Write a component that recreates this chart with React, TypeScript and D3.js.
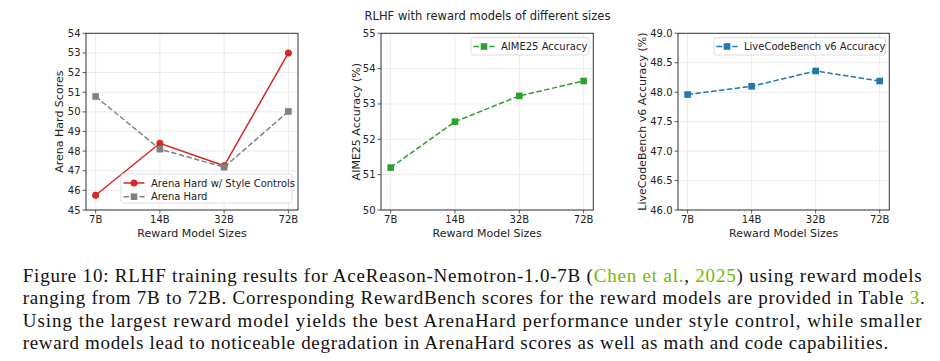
import React from 'react';
import * as d3 from 'd3';

// chart data
const sizes = ['7B', '14B', '32B', '72B'];
const arenaStyleScores = [45.75, 48.4, 47.25, 53.0];
const arenaHardScores = [50.78, 48.1, 47.18, 50.02];
const aimeAccuracy = [51.2, 52.5, 53.23, 53.65];
const lcbAccuracy = [47.96, 48.1, 48.36, 48.19];

const arenaTicks = [45, 46, 47, 48, 49, 50, 51, 52, 53, 54];
const aimeTicks = [50, 51, 52, 53, 54, 55];
const lcbTicks = [46.0, 46.5, 47.0, 47.5, 48.0, 48.5, 49.0];

const FONT = 'DejaVu Sans, sans-serif';
const TOP = 33.3;
const BOTTOM = 210;

const Marker = ({ shape, x, y, color }) =>
  shape === 'circle' ? (
    <circle cx={x} cy={y} r={3.5} fill={color} />
  ) : (
    <rect x={x - 3.3} y={y - 3.3} width={6.6} height={6.6} fill={color} />
  );

const Panel = ({ left, right, ticks, fmt, ylabel, labelX, series, legend }) => {
  const x = d3.scalePoint().domain(sizes).range([left, right]).padding(0.15);
  const y = d3
    .scaleLinear()
    .domain([ticks[0], ticks[ticks.length - 1]])
    .range([BOTTOM, TOP]);
  const line = d3
    .line()
    .x((d, i) => x(sizes[i]))
    .y((d) => y(d));

  return (
    <g fontFamily={FONT}>
      {/* grid */}
      {ticks.map((t) => (
        <line key={'gy' + t} x1={left} x2={right} y1={y(t)} y2={y(t)} stroke="#e6e6e6" strokeWidth={0.8} />
      ))}
      {sizes.map((s) => (
        <line key={'gx' + s} x1={x(s)} x2={x(s)} y1={TOP} y2={BOTTOM} stroke="#e6e6e6" strokeWidth={0.8} />
      ))}

      {series.map((s) => (
        <g key={s.name}>
          <path
            d={line(s.values)}
            fill="none"
            stroke={s.color}
            strokeWidth={1.5}
            strokeDasharray={s.dashed ? '5.5,2.4' : null}
          />
          {s.values.map((v, i) => (
            <Marker key={i} shape={s.shape} x={x(sizes[i])} y={y(v)} color={s.color} />
          ))}
        </g>
      ))}

      {/* spines */}
      <rect x={left} y={TOP} width={right - left} height={BOTTOM - TOP} fill="none" stroke="#333" strokeWidth={1} />

      {/* y ticks */}
      {ticks.map((t) => (
        <g key={'ty' + t}>
          <line x1={left - 3.5} x2={left} y1={y(t)} y2={y(t)} stroke="#333" strokeWidth={0.8} />
          <text x={left - 5.5} y={y(t)} dy="0.35em" textAnchor="end" fontSize={10} fill="#222">
            {fmt(t)}
          </text>
        </g>
      ))}
      {/* x ticks */}
      {sizes.map((s) => (
        <g key={'tx' + s}>
          <line x1={x(s)} x2={x(s)} y1={BOTTOM} y2={BOTTOM + 3.5} stroke="#333" strokeWidth={0.8} />
          <text x={x(s)} y={BOTTOM + 13} textAnchor="middle" fontSize={10} fill="#222">
            {s}
          </text>
        </g>
      ))}
      <text x={(left + right) / 2} y={BOTTOM + 26.5} textAnchor="middle" fontSize={11} fill="#222">
        Reward Model Sizes
      </text>
      <text
        transform={`translate(${labelX},${(TOP + BOTTOM) / 2}) rotate(-90)`}
        textAnchor="middle"
        dy="0.35em"
        fontSize={11}
        fill="#222"
      >
        {ylabel}
      </text>

      {/* legend */}
      <rect
        x={legend.x}
        y={legend.y}
        width={legend.w}
        height={legend.h}
        rx={2}
        fill="white"
        fillOpacity={0.85}
        stroke="#d6d6d6"
        strokeWidth={0.8}
      />
      {series.map((s, i) => {
        const ly = legend.y + 9 + i * 13.7;
        const hx = legend.x + 2.5;
        return (
          <g key={'lg' + s.name}>
            <line
              x1={hx}
              x2={hx + 21}
              y1={ly}
              y2={ly}
              stroke={s.color}
              strokeWidth={1.5}
              strokeDasharray={s.dashed ? '5.5,2.4' : null}
            />
            <Marker shape={s.shape} x={hx + 10.5} y={ly} color={s.color} />
            <text x={hx + 27.5} y={ly} dy="0.35em" fontSize={10} fill="#222">
              {s.name}
            </text>
          </g>
        );
      })}
    </g>
  );
};

const GREEN = '#76b900';

export default function App() {
  return (
    <svg
      width={940}
      height={361}
      style={{ position: 'absolute', left: 0, top: 0, background: 'white' }}
    >
      <rect width={940} height={361} fill="white" />
      <text x={487.5} y={20} textAnchor="middle" fontFamily={FONT} fontSize={11.5} fill="#222">
        RLHF with reward models of different sizes
      </text>

      <Panel
        left={86}
        right={298}
        ticks={arenaTicks}
        fmt={(t) => String(t)}
        ylabel="Arena Hard Scores"
        labelX={59.5}
        series={[
          { name: 'Arena Hard w/ Style Controls', values: arenaStyleScores, color: '#d62728', shape: 'circle', dashed: false },
          { name: 'Arena Hard', values: arenaHardScores, color: 'gray', shape: 'square', dashed: true },
        ]}
        legend={{ x: 121, y: 174, w: 171, h: 29 }}
      />
      <Panel
        left={381}
        right={593.3}
        ticks={aimeTicks}
        fmt={(t) => String(t)}
        ylabel="AIME25 Accuracy (%)"
        labelX={356.5}
        series={[
          { name: 'AIME25 Accuracy', values: aimeAccuracy, color: '#2ca02c', shape: 'square', dashed: true },
        ]}
        legend={{ x: 471, y: 37.5, w: 118, h: 17.5 }}
      />
      <Panel
        left={678}
        right={889.3}
        ticks={lcbTicks}
        fmt={(t) => t.toFixed(1)}
        ylabel="LiveCodeBench v6 Accuracy (%)"
        labelX={642.5}
        series={[
          { name: 'LiveCodeBench v6 Accuracy', values: lcbAccuracy, color: '#1f77b4', shape: 'square', dashed: true },
        ]}
        legend={{ x: 714, y: 37.5, w: 171.5, h: 17.5 }}
      />

      {/* caption */}
      <g fontFamily="Liberation Serif, serif" fontSize={19} fill="#111">
        <text x={22.7} y={281.7} textLength={899} lengthAdjust="spacing">
          Figure 10: RLHF training results for AceReason-Nemotron-1.0-7B (<tspan fill={GREEN}>Chen et al.</tspan>,{' '}
          <tspan fill={GREEN}>2025</tspan>) using reward models
        </text>
        <text x={22.7} y={304.1} textLength={902} lengthAdjust="spacing">
          ranging from 7B to 72B. Corresponding RewardBench scores for the reward models are provided in Table{' '}
          <tspan fill={GREEN}>3</tspan>.
        </text>
        <text x={22.7} y={326.5} textLength={899} lengthAdjust="spacing">
          Using the largest reward model yields the best ArenaHard performance under style control, while smaller
        </text>
        <text x={22.7} y={348.6} textLength={865.5} lengthAdjust="spacing">
          reward models lead to noticeable degradation in ArenaHard scores as well as math and code capabilities.
        </text>
      </g>
    </svg>
  );
}
